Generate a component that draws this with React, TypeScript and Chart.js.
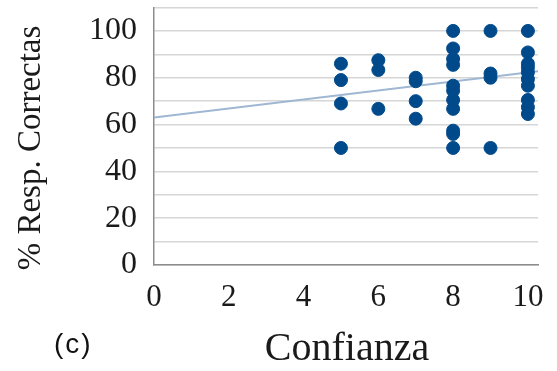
import React, { useEffect, useRef } from "react";
import { Chart, registerables } from "chart.js";

Chart.register(...registerables);

// Scatter data: confianza (x) vs % respuestas correctas (y)
const confianza = [
  5, 5, 5, 5,
  6, 6, 6,
  7, 7, 7, 7,
  8, 8, 8, 8, 8, 8, 8, 8, 8, 8, 8,
  9, 9, 9, 9,
  10, 10, 10, 10, 10, 10, 10, 10, 10, 10,
];
const correctas = [
  86, 79, 69, 50,
  87.5, 83.3, 66.7,
  80, 78.5, 70, 62.5,
  100, 92.5, 88, 85.5, 76.6, 74.5, 70.5, 66.7, 57.4, 56, 50,
  100, 81.8, 80, 50,
  100, 90.8, 86, 84.4, 82.3, 79.4, 76.6, 70.5, 67.4, 64.5,
];

// Linear trend line
const trendX = [0, 10.27];
const trendY = [63, 82.8];

const xTicks = [0, 2, 4, 6, 8, 10];
const yTicks = [0, 20, 40, 60, 80, 100];

const xTitle = "Confianza";
const yTitle = "% Resp. Correctas";
const panelLabel = "(c)";

export default function App() {
  const ref = useRef<HTMLCanvasElement | null>(null);

  useEffect(() => {
    document.body.style.margin = "0";
    const canvas = ref.current;
    if (!canvas) return;

    const textPlugin = {
      id: "texts",
      afterDraw(chart: any) {
        const ctx = chart.ctx;
        ctx.save();
        ctx.fillStyle = "#1a1a1a";
        // x title
        ctx.font = "40px 'Liberation Serif'";
        ctx.textAlign = "center";
        ctx.textBaseline = "alphabetic";
        ctx.fillText(xTitle, 347, 360);
        // y title
        ctx.save();
        ctx.translate(39.5, 148);
        ctx.rotate(-Math.PI / 2);
        ctx.font = "33px 'Liberation Serif'";
        ctx.textAlign = "center";
        ctx.textBaseline = "alphabetic";
        ctx.fillText(yTitle, 0, 0);
        ctx.restore();
        ctx.restore();
      },
    };

    const zeroPad = (scale: any) => {
      scale.paddingTop = 0;
      scale.paddingBottom = 0;
      scale.paddingLeft = 0;
      scale.paddingRight = 0;
    };

    const chart = new Chart(canvas, {
      type: "scatter",
      data: {
        datasets: [
          {
            type: "scatter",
            data: confianza.map((x, i) => ({ x, y: correctas[i] })),
            backgroundColor: "#004a8b",
            borderColor: "#004a8b",
            pointRadius: 6.5,
            pointHoverRadius: 6.5,
            order: 0,
          },
          {
            type: "line",
            data: trendX.map((x, i) => ({ x, y: trendY[i] })),
            borderColor: "#9fb7d2",
            borderWidth: 2,
            pointRadius: 0,
            fill: false,
            order: 1,
          } as any,
        ],
      },
      options: {
        animation: false,
        responsive: true,
        maintainAspectRatio: false,
        layout: { padding: { left: 0, right: 19, top: 7, bottom: 0 } },
        plugins: {
          legend: { display: false },
          tooltip: { enabled: false },
        },
        scales: {
          x: {
            type: "linear",
            min: 0,
            max: 10.27,
            afterBuildTicks: (scale: any) => {
              scale.ticks = xTicks.map((v) => ({ value: v }));
            },
            afterFit: (scale: any) => {
              scale.height = 106;
              zeroPad(scale);
            },
            grid: { display: false, drawTicks: false },
            border: { display: true, color: "#8c8c8c", width: 1.5 },
            ticks: {
              padding: 14,
              font: { family: "'Liberation Serif'", size: 31 },
              color: "#1a1a1a",
              maxRotation: 0,
              autoSkip: false,
            },
            title: { display: false },
          },
          y: {
            type: "linear",
            min: 0,
            max: 110,
            afterBuildTicks: (scale: any) => {
              const t: any[] = [];
              for (let v = 0; v <= 110; v += 10) t.push({ value: v });
              scale.ticks = t;
            },
            afterFit: (scale: any) => {
              scale.width = 154;
              zeroPad(scale);
            },
            grid: { color: "#d6d6d6", lineWidth: 1.5, drawTicks: false },
            border: { display: true, color: "#8c8c8c", width: 1.5 },
            ticks: {
              padding: 17,
              font: { family: "'Liberation Serif'", size: 32 },
              color: "#1a1a1a",
              autoSkip: false,
              callback: (v: any) => (yTicks.includes(Number(v)) ? String(v) : ""),
            },
            title: { display: false },
          },
        },
      },
      plugins: [textPlugin],
    });

    return () => chart.destroy();
  }, []);

  return (
    <div style={{ position: "absolute", left: 0, top: 0, width: 557, height: 371 }}>
      <canvas ref={ref} />
      <div
        style={{
          position: "absolute",
          left: 54,
          top: 328,
          fontFamily: "'Liberation Sans', Arial, sans-serif",
          fontSize: 28,
          lineHeight: "32px",
          letterSpacing: "2px",
          color: "#111",
          whiteSpace: "nowrap",
        }}
      >
        {panelLabel}
      </div>
    </div>
  );
}
